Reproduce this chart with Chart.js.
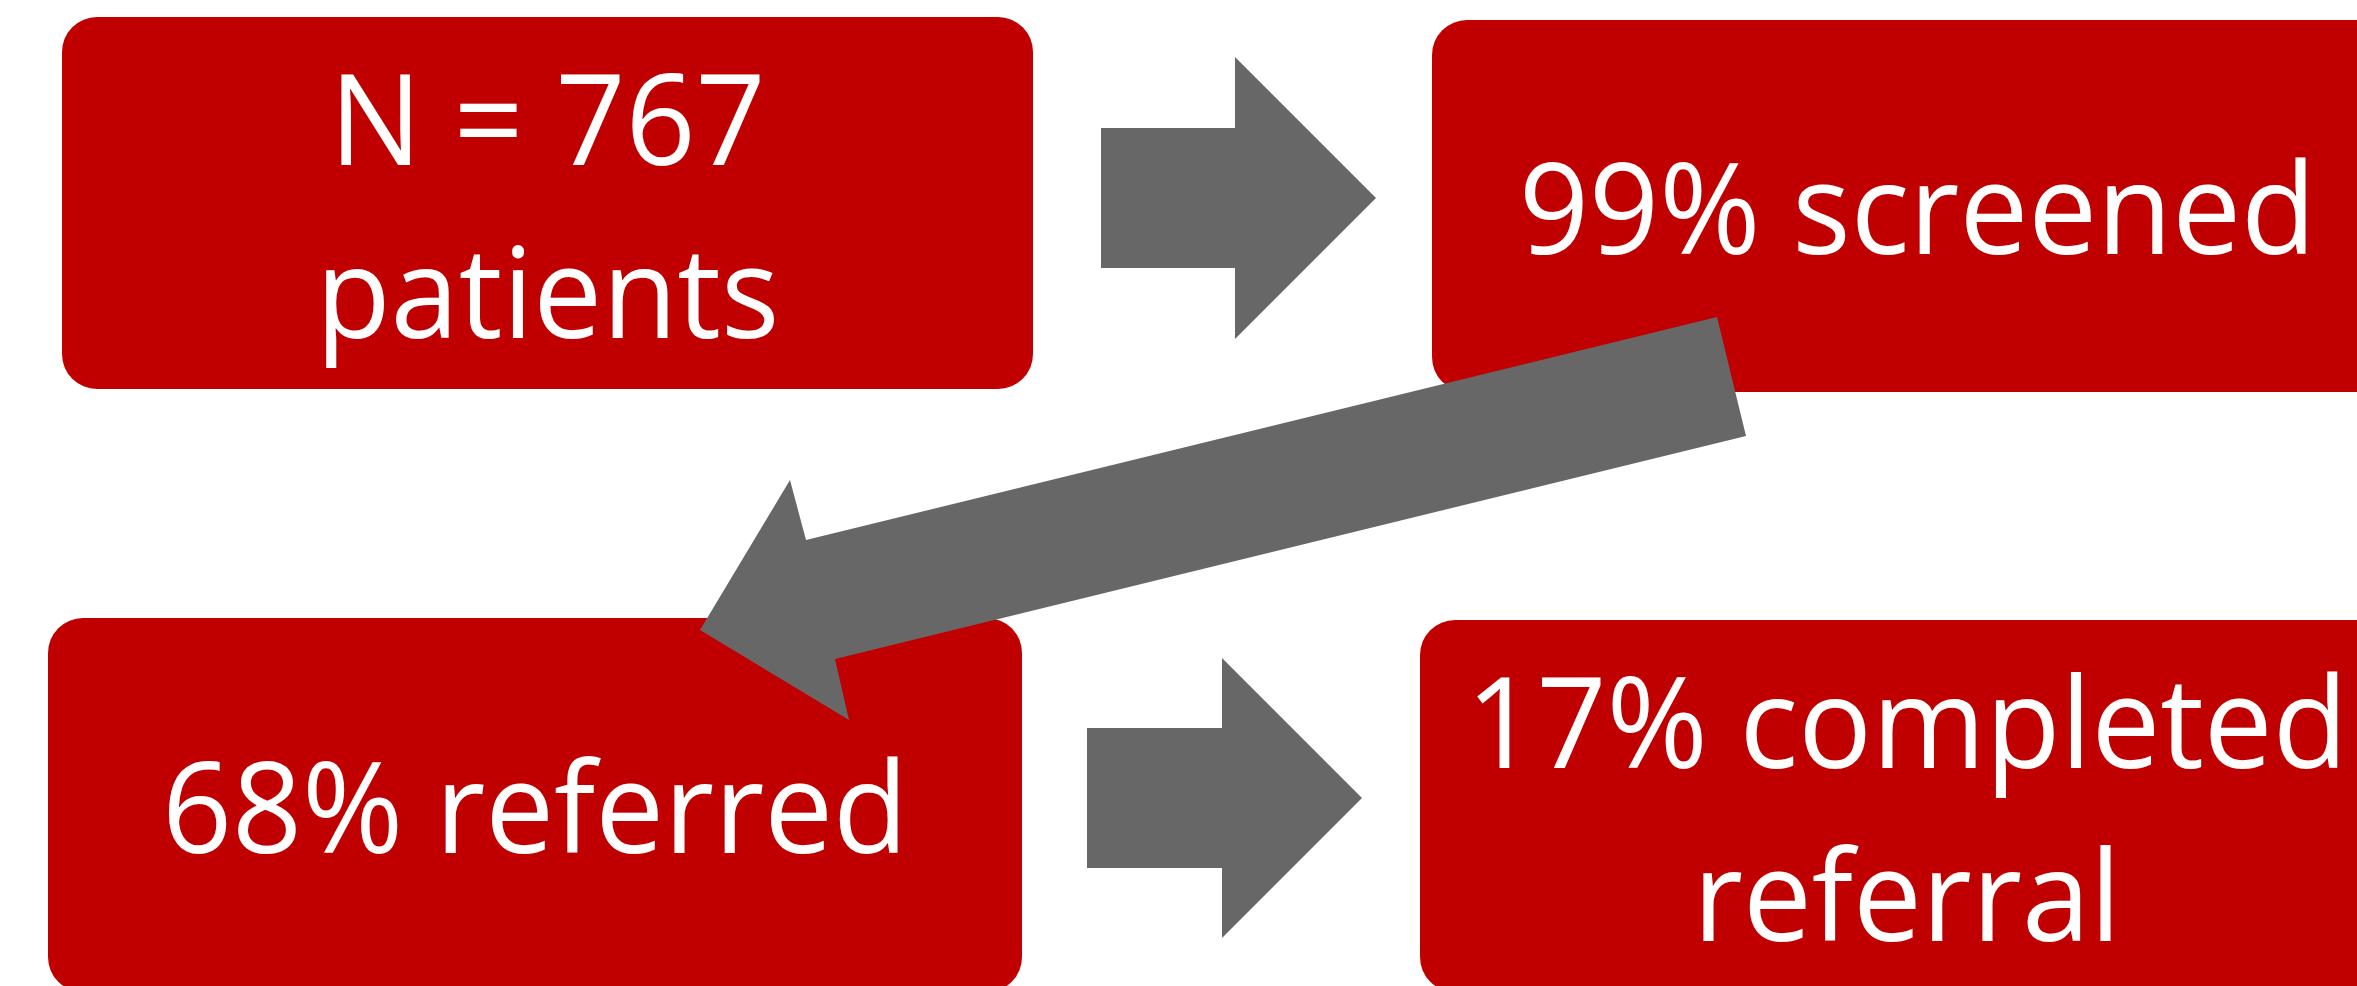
<!DOCTYPE html>
<html>
<head>
<meta charset="utf-8">
<script src="https://cdn.jsdelivr.net/npm/chart.js@4.4.0/dist/chart.umd.min.js"></script>
<style>
    html, body { margin: 0; padding: 0; background: #ffffff; }
    #wrap { width: 2357px; height: 986px; }
</style>
</head>
<body>
<div id="wrap"><canvas id="flow"></canvas></div>
<script>
// Patient flow values
const totalPatients = 767;
const stagePercents = [100, 99, 68, 17];
const stageLines = [
    ['N = ' + totalPatients, 'patients'],
    [stagePercents[1] + '% screened'],
    [stagePercents[2] + '% referred'],
    [stagePercents[3] + '% completed', 'referral'],
];

// Layout in axis units (x 0..2357, y 0..986 top-down)
const boxRects = [
    [62, 17, 1033, 389],
    [1432, 20, 2403, 392],
    [48, 618, 1022, 992],
    [1420, 620, 2394, 992],
];
const arrowShapes = [
    [[1101, 128], [1235, 128], [1235, 57], [1376, 198], [1235, 339], [1235, 268], [1101, 268]],
    [[1717, 317], [1746, 436], [835, 659], [849, 720], [700, 630], [790, 480], [806, 540]],
    [[1087, 728], [1222, 728], [1222, 658], [1362, 798], [1222, 938], [1222, 868], [1087, 868]],
];

const BOX_COLOR = '#C00000';
const ARROW_COLOR = '#676767';
const FONT = '126px "Open Sans"';
const LINE_GAP = 173;
const CAP_HEIGHT = 90;

// Draw the boxes, labels and arrows through the chart scales
const flowPlugin = {
    id: 'flowDiagram',
    afterDatasetsDraw(chart) {
        const { ctx, scales: { x, y } } = chart;
        const px = v => x.getPixelForValue(v);
        const py = v => y.getPixelForValue(v);

        ctx.save();
        ctx.font = FONT;
        // squeeze text a bit so widths match the original narrow font
        const squeeze = Math.min(1, (px(797) - px(0)) / ctx.measureText('99% screened').width);

        boxRects.forEach((r, i) => {
            const x0 = px(r[0]), y0 = py(r[1]), x1 = px(r[2]), y1 = py(r[3]);
            ctx.beginPath();
            ctx.roundRect(x0, y0, x1 - x0, y1 - y0, 35);
            ctx.fillStyle = BOX_COLOR;
            ctx.fill();

            const lines = stageLines[i];
            const cx = (x0 + x1) / 2;
            const cy = (y0 + y1) / 2;
            ctx.fillStyle = '#ffffff';
            ctx.textAlign = 'center';
            ctx.textBaseline = 'alphabetic';
            lines.forEach((line, k) => {
                const by = cy - (lines.length * LINE_GAP) / 2 + LINE_GAP / 2 + k * LINE_GAP + CAP_HEIGHT / 2 + 3;
                ctx.save();
                ctx.translate(cx, by);
                ctx.scale(squeeze, 1);
                ctx.fillText(line, 0, 0);
                ctx.restore();
            });
        });

        arrowShapes.forEach(shape => {
            ctx.beginPath();
            shape.forEach((p, j) => {
                if (j === 0) ctx.moveTo(px(p[0]), py(p[1]));
                else ctx.lineTo(px(p[0]), py(p[1]));
            });
            ctx.closePath();
            ctx.fillStyle = ARROW_COLOR;
            ctx.fill();
        });
        ctx.restore();
    }
};

function drawFlow() {
    const canvas = document.getElementById('flow');
    return new Chart(canvas, {
        type: 'scatter',
        data: {
            datasets: [{
                label: 'stages',
                data: [],
                pointRadius: 0,
            }]
        },
        options: {
            responsive: true,
            maintainAspectRatio: false,
            animation: false,
            layout: { padding: 0 },
            plugins: {
                legend: { display: false },
                tooltip: { enabled: false },
            },
            scales: {
                x: { type: 'linear', min: 0, max: 2357, display: false },
                y: { type: 'linear', min: 0, max: 986, reverse: true, display: false },
            }
        },
        plugins: [flowPlugin]
    });
}

document.fonts.load(FONT).then(drawFlow, drawFlow);
</script>
</body>
</html>
